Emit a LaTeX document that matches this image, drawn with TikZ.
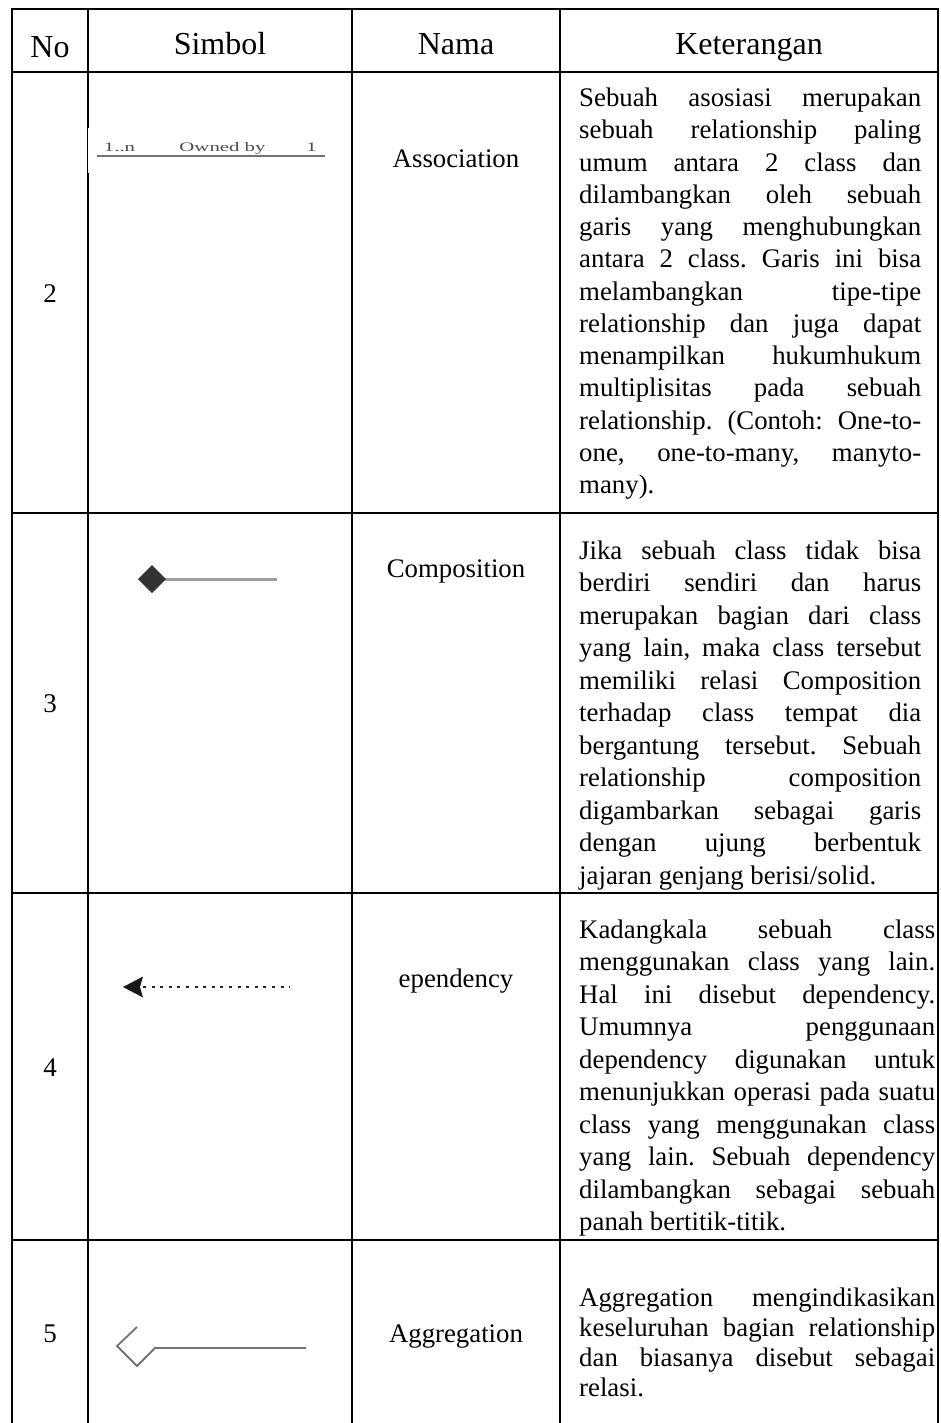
\documentclass[tikz,border=0pt]{standalone}
\usepackage{fontspec}
\usepackage{graphicx}
\setmainfont{Liberation Serif}
\newlength\celltw
\newcommand\jl[1]{\hbox to \celltw{#1}}
\newcommand\cellpar[3]{% width, baselineskip, lines
  \vtop{\frenchspacing\setlength\celltw{#1}\hsize=\celltw
    \baselineskip=#2\lineskiplimit=-100pt\lineskip=0pt #3}}
\begin{document}
\begin{tikzpicture}[x=1pt,y=-1pt,
  grid/.style={line width=2.7pt},
  head/.style={font=\fontsize{32}{36}\selectfont, anchor=base, inner sep=0pt},
  num/.style={font=\fontsize{27}{32}\selectfont, anchor=base, inner sep=0pt},
  nama/.style={font=\fontsize{26.8}{32}\selectfont, anchor=base, inner sep=0pt},
  body/.style={font=\fontsize{26.8}{32}\selectfont, anchor=base west, inner sep=0pt},
  tiny/.style={font=\fontsize{13}{13}\selectfont, text=black!70, anchor=base, inner sep=0pt}]
\useasboundingbox (0,0) rectangle (941,1423);

% table rules
\draw[grid] (12,1423) -- (12,9) -- (938,9) -- (938,1423);
\foreach \yy in {72,513,893,1240} \draw[grid] (12,\yy) -- (938,\yy);
\foreach \xx in {88,352,560} \draw[grid] (\xx,9) -- (\xx,1423);

% header
\node[head] (hNo)  at (50,58)  {No};
\node[head] (hSim) at (220,55) {Simbol};
\node[head] (hNam) at (456,55) {Nama};
\node[head] (hKet) at (749,55) {Keterangan};

% row numbers
\node[num] (n2) at (50,302)  {2};
\node[num] (n3) at (50,712)  {3};
\node[num] (n4) at (50,1076) {4};
\node[num] (n5) at (50,1342) {5};

% names
\node[nama] (m2) at (456,168)  {Association};
\node[nama] (m3) at (456,577)  {Composition};
\node[nama] (m4) at (456,987)  {ependency};
\node[nama] (m5) at (456,1342) {Aggregation};

% association symbol (pasted picture with a white background)
\fill[white] (88.3,128) rectangle (330,173);
\draw[line width=2.4pt, black!55] (97,156) -- (325,156);
\node[tiny] (aL) at (119.5,151.5) {\scalebox{1.6}[1]{1..n}};
\node[tiny] (aM) at (222.5,151.5) {\scalebox{1.6}[1]{Owned by}};
\node[tiny] (aR) at (311.5,151.5) {\scalebox{1.6}[1]{1}};

% composition symbol
\draw[line width=3pt, black!38] (165,579) -- (277,579);
\fill[black!80] (138,579) -- (152,565) -- (166,579) -- (152,593) -- cycle;

% dependency symbol
\draw[line width=2.8pt, black!85, dash pattern=on 3pt off 5.6pt] (143,987) -- (290,987);
\fill[black!90] (123,987) -- (143,976.5) -- (140,987) -- (143,997.5) -- cycle;

% aggregation symbol
\draw[line width=1.8pt, black!55, line join=miter]
  (137,1327) -- (117,1346) -- (137,1366) -- (155,1348) -- (306,1348);

% descriptions
\node[body] (k2) at (579,106.7) {\cellpar{342pt}{32.25pt}{%
  \jl{Sebuah asosiasi merupakan}
  \jl{sebuah relationship paling}
  \jl{umum antara 2 class dan}
  \jl{dilambangkan oleh sebuah}
  \jl{garis yang menghubungkan}
  \jl{antara 2 class. Garis ini bisa}
  \jl{melambangkan tipe-tipe}
  \jl{relationship dan juga dapat}
  \jl{menampilkan hukumhukum}
  \jl{multiplisitas pada sebuah}
  \jl{relationship. (Contoh: One-to-}
  \jl{one, one-to-many, manyto-}
  \hbox{many).}}};

\node[body] (k3) at (579,559) {\cellpar{342pt}{32.5pt}{%
  \jl{Jika sebuah class tidak bisa}
  \jl{berdiri sendiri dan harus}
  \jl{merupakan bagian dari class}
  \jl{yang lain, maka class tersebut}
  \jl{memiliki relasi Composition}
  \jl{terhadap class tempat dia}
  \jl{bergantung tersebut. Sebuah}
  \jl{relationship composition}
  \jl{digambarkan sebagai garis}
  \jl{dengan ujung berbentuk}
  \hbox{jajaran genjang berisi/solid.}}};

\node[body] (k4) at (579,938) {\cellpar{356pt}{32.5pt}{%
  \jl{Kadangkala sebuah class}
  \jl{menggunakan class yang lain.}
  \jl{Hal ini disebut dependency.}
  \jl{Umumnya penggunaan}
  \jl{dependency digunakan untuk}
  \jl{menunjukkan operasi pada suatu}
  \jl{class yang menggunakan class}
  \jl{yang lain. Sebuah dependency}
  \jl{dilambangkan sebagai sebuah}
  \hbox{panah bertitik-titik.}}};

\node[body] (k5) at (579,1306) {\cellpar{356pt}{30pt}{%
  \jl{Aggregation mengindikasikan}
  \jl{keseluruhan bagian relationship}
  \jl{dan biasanya disebut sebagai}
  \hbox{relasi.}}};
\end{tikzpicture}
\end{document}
